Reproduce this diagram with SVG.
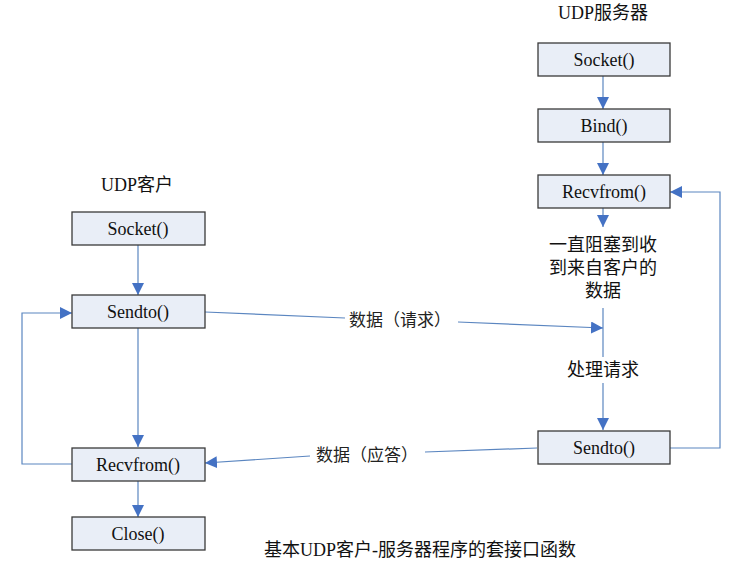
<svg xmlns="http://www.w3.org/2000/svg" width="735" height="571" viewBox="0 0 735 571">
<style>
.box{fill:#e9eef7;stroke:#3a3a3a;stroke-width:1.3}
.t{font-family:"Liberation Serif","Noto Sans CJK SC",serif;font-size:18px;fill:#111;text-anchor:middle}
.c{font-family:"Liberation Serif","Noto Sans CJK SC",serif;font-size:17px;fill:#222;text-anchor:middle}
.ln{fill:none;stroke:#5b86c0;stroke-width:1.2}
</style>
<defs>
<marker id="ah" viewBox="0 0 10 10" refX="10" refY="5" markerWidth="12" markerHeight="12" markerUnits="userSpaceOnUse" orient="auto">
<path d="M0,0 L10,5 L0,10 Z" fill="#4472c4"/>
</marker>
</defs>
<rect width="735" height="571" fill="#fff"/>
<text class="t" x="603" y="19">UDP服务器</text>
<text class="t" x="137" y="191">UDP客户</text>
<g id="connectors">
<line class="ln" x1="603" y1="76" x2="603" y2="109" marker-end="url(#ah)"/>
<line class="ln" x1="603" y1="142" x2="603" y2="175" marker-end="url(#ah)"/>
<line class="ln" x1="603" y1="208" x2="603" y2="227" marker-end="url(#ah)"/>
<line class="ln" x1="603" y1="308" x2="603" y2="357"/>
<line class="ln" x1="603" y1="383" x2="603" y2="430" marker-end="url(#ah)"/>
<polyline class="ln" points="670,448 720,448 720,192 670,192" marker-end="url(#ah)"/>
<line class="ln" x1="138" y1="245" x2="138" y2="295" marker-end="url(#ah)"/>
<line class="ln" x1="138" y1="328" x2="138" y2="447" marker-end="url(#ah)"/>
<line class="ln" x1="138" y1="481" x2="138" y2="517" marker-end="url(#ah)"/>
<polyline class="ln" points="72,464 22,464 22,313 72,313" marker-end="url(#ah)"/>
<polyline class="ln" points="205,312 345,318"/>
<polyline class="ln" points="458,322 603,328" marker-end="url(#ah)"/>
<polyline class="ln" points="537,448 425,452"/>
<polyline class="ln" points="310,456 205,463" marker-end="url(#ah)"/>
<text class="c" x="400" y="326">数据（请求）</text>
<text class="c" x="367" y="461">数据（应答）</text>
</g>
<g id="server-socket"><rect class="box" x="538" y="43" width="132" height="33"/><text class="t" x="604" y="66">Socket()</text></g>
<g id="server-bind"><rect class="box" x="538" y="109" width="132" height="33"/><text class="t" x="604" y="132">Bind()</text></g>
<g id="server-recvfrom"><rect class="box" x="538" y="175" width="132" height="33"/><text class="t" x="604" y="198">Recvfrom()</text></g>
<g id="server-wait"><text class="t" x="603" y="251">一直阻塞到收</text><text class="t" x="603" y="274">到来自客户的</text><text class="t" x="603" y="297">数据</text></g>
<g id="server-process"><text class="t" x="603" y="376">处理请求</text></g>
<g id="server-sendto"><rect class="box" x="538" y="431" width="132" height="33"/><text class="t" x="604" y="454">Sendto()</text></g>
<g id="client-socket"><rect class="box" x="72" y="212" width="133" height="33"/><text class="t" x="138" y="235">Socket()</text></g>
<g id="client-sendto"><rect class="box" x="72" y="295" width="133" height="33"/><text class="t" x="138" y="318">Sendto()</text></g>
<g id="client-recvfrom"><rect class="box" x="72" y="448" width="133" height="33"/><text class="t" x="138" y="471">Recvfrom()</text></g>
<g id="client-close"><rect class="box" x="72" y="517" width="133" height="33"/><text class="t" x="138" y="540">Close()</text></g>
<text class="t" x="420" y="556">基本UDP客户-服务器程序的套接口函数</text>
</svg>
